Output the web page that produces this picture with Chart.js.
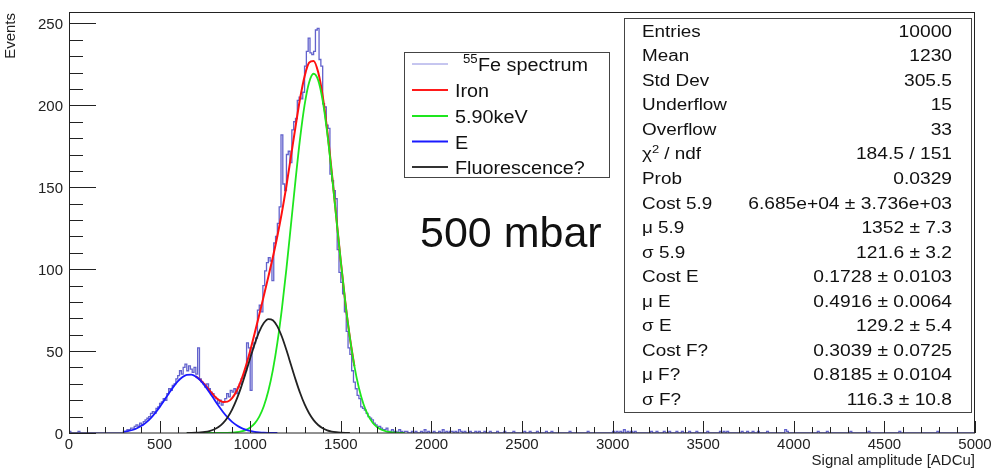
<!DOCTYPE html>
<html>
<head>
<meta charset="utf-8">
<script src="https://cdn.jsdelivr.net/npm/chart.js@4.4.1/dist/chart.umd.min.js"></script>
<style>
  html, body { margin: 0; padding: 0; background: #fff; }
  canvas { display: block; }
</style>
</head>
<body>
<canvas id="fe55" width="992" height="468"></canvas>
<script>
// 55Fe spectrum, 500 bins of 10 ADCu from 0 to 5000
var binWidth = 10;
var counts = [
  1,0,0,0,0,1,0,0,0,0, 0,0,0,0,0,0,0,0,0,0,
  0,0,0,0,0,0,0,0,0,0, 1,1,2,2,3,3,4,5,4,6,
  5,7,8,9,10,12,13,12,15,16, 18,19,21,20,24,27,26,29,30,33,
  35,38,36,40,42,38,41,39,37,40, 36,52,33,31,30,28,30,27,25,24,
  22,21,18,20,17,19,21,24,22,26, 25,27,24,28,30,33,35,38,55,52,
  26,52,55,58,75,78,74,90,99,104, 107,105,93,116,120,128,138,182,152,148,
  170,172,165,185,190,192,203,205,204,208, 224,233,241,232,231,233,246,247,228,224,
  201,199,188,186,158,154,148,143,112,98, 92,85,74,62,52,48,38,31,27,23,
  21,16,15,14,12,10,9,8,6,5, 4,4,3,2,2,3,1,1,2,1,
  1,0,2,1,0,1,1,0,0,1, 0,1,0,0,1,0,2,0,1,0,
  0,1,0,0,1,0,2,0,1,0, 1,1,0,1,0,2,1,0,1,0,
  0,1,0,0,1,0,1,0,0,1, 0,0,1,0,0,0,1,0,0,0,
  1,0,0,0,0,1,0,0,0,0, 0,1,0,0,1,0,0,0,1,0,
  0,0,0,1,0,0,1,0,0,0, 0,0,0,0,0,0,1,0,0,0,
  0,0,0,0,0,0,1,0,0,0, 0,0,0,0,0,0,0,0,0,0,
  1,0,1,0,1,0,2,0,1,0, 1,0,1,0,0,0,0,0,0,0,
  0,1,0,0,1,0,0,0,1,0, 0,1,0,0,0,1,0,0,1,0,
  0,0,1,0,0,0,1,0,0,0, 0,0,1,0,0,0,0,0,0,1,
  0,1,0,1,0,0,0,0,0,0, 0,1,0,0,1,0,0,1,0,0,
  1,0,0,0,0,1,0,0,0,0, 0,0,0,0,0,2,1,0,0,0,
  0,0,0,0,0,0,0,0,0,0, 0,0,0,1,0,0,0,0,1,0,
  0,0,0,0,0,0,0,0,0,0, 0,1,0,0,0,0,0,0,0,0,
  0,1,0,0,0,0,0,0,0,0, 0,0,0,0,0,0,0,0,1,0,
  0,0,0,0,0,0,0,0,0,0, 0,0,0,0,0,0,0,0,0,1,
  0,0,0,0,0,0,0,0,0,0, 0,0,0,0,0,0,0,0,0,0
];

// fit curves, every 25 ADCu
var curveStep = 25;
var ironStart = 700;
var ironY = [34.56,32.38,29.38,26.03,22.83,20.29,18.91,19.16,21.35,25.66,32.09,40.42,
  50.21,61.0,72.27,83.71,95.31,107.31,120.3,134.72,151.0,168.85,186.92,204.04,
  217.67,226.04,227.16,220.3,205.82,184.86,159.4,131.87,104.83,79.78,58.34,40.81];
var kevStart = 650;
var kevY = [0,0,0,0,0,0,0.01,0.02,0.04,0.1,0.22,0.46,0.93,1.8,3.32,5.9,10.03,16.37,
  25.62,38.38,55.18,75.98,100.4,127.2,154.2,179.5,200.1,214.0,219.3,215.4,202.9,183.2,
  158.5,131.4,104.6,79.67,58.29,40.81,27.43,17.65,10.88,6.45,3.64,1.99,1.03,0.52,0.25,0.11,0.05];
var eStart = 300;
var eY = [0.66,1.12,1.83,2.87,4.36,6.35,8.94,12.11,15.8,19.85,24.03,28.01,31.46,34.03,
  35.46,35.6,34.41,32.06,28.75,24.85,20.68,16.58,12.81,9.53,6.83,4.71,3.13,2.01,1.24,
  0.74,0.42,0.23,0.12,0.06,0.03];
var fluoStart = 650;
var fluoY = [0.03,0.07,0.15,0.32,0.63,1.18,2.14,3.69,6.06,9.53,14.3,20.49,28.03,36.61,
  45.65,54.36,61.82,67.11,69.57,68.87,65.09,58.74,50.61,41.65,32.72,24.54,17.57,12.04,
  7.86,4.9,2.92,1.66,0.9,0.47,0.23,0.11,0.05];

var xTicks = [0,500,1000,1500,2000,2500,3000,3500,4000,4500,5000];
var yTicks = [0,50,100,150,200,250];

var statNames = ['Entries','Mean','Std Dev','Underflow','Overflow','\u03c72 / ndf','Prob',
  'Cost 5.9','\u03bc 5.9','\u03c3 5.9','Cost E','\u03bc E','\u03c3 E','Cost F?','\u03bc F?','\u03c3 F?'];
var statValues = ['10000','1230','305.5','15','33','184.5 / 151','0.0329',
  '6.685e+04 \u00b1 3.736e+03','1352 \u00b1 7.3','121.6 \u00b1 3.2','0.1728 \u00b1 0.0103',
  '0.4916 \u00b1 0.0064','129.2 \u00b1 5.4','0.3039 \u00b1 0.0725','0.8185 \u00b1 0.0104',
  '116.3 \u00b1 10.8'];

var legendNames = ['Fe spectrum','Iron','5.90keV','E','Fluorescence?'];
var legendColors = ['#8c8ce0','#ff1a1a','#1ee61e','#1a1aff','#333333'];

function toPoints(start, ys) {
  return ys.map(function(v, i) { return { x: start + i * curveStep, y: v }; });
}
var histPoints = counts.map(function(c, i) { return { x: (i + 0.5) * binWidth, y: c }; });

var FONT = '"Liberation Sans", Arial, Helvetica, sans-serif';

function txt(ctx, s, x, y, align, size, sx) {
  ctx.save();
  ctx.font = size + 'px ' + FONT;
  ctx.translate(x, y);
  ctx.scale(sx || 1, 1);
  ctx.textAlign = align;
  ctx.textBaseline = 'alphabetic';
  ctx.fillText(s, 0, 0);
  ctx.restore();
}

var rootLook = {
  id: 'rootLook',
  afterDatasetsDraw: function(chart) {
    var ctx = chart.ctx, a = chart.chartArea;
    var xs = chart.scales.x, ys = chart.scales.y;
    ctx.save();
    ctx.strokeStyle = '#222';
    ctx.fillStyle = '#222';
    ctx.lineWidth = 1;
    ctx.strokeRect(a.left + 0.5, a.top + 0.5, a.right - a.left - 1, a.bottom - a.top - 0.5);

    // x ticks, minor every 100
    for (var v = 0; v <= 5000; v += 100) {
      var px = Math.round(xs.getPixelForValue(v)) + 0.5;
      var len = v % 500 === 0 ? 12 : 6;
      ctx.beginPath(); ctx.moveTo(px, a.bottom); ctx.lineTo(px, a.bottom - len); ctx.stroke();
    }
    // y ticks, minor every 10
    for (var w = 0; w <= 250; w += 10) {
      var py = Math.round(ys.getPixelForValue(w)) + 0.5;
      var l2 = w % 50 === 0 ? 27 : 14;
      ctx.beginPath(); ctx.moveTo(a.left, py); ctx.lineTo(a.left + l2, py); ctx.stroke();
    }
    xTicks.forEach(function(t) {
      txt(ctx, String(t), xs.getPixelForValue(t), 449, 'center', 15);
    });
    yTicks.forEach(function(t) {
      txt(ctx, String(t), 63, ys.getPixelForValue(t) + 5.5, 'right', 15);
    });
    txt(ctx, 'Signal amplitude [ADCu]', a.right, 465, 'right', 15);
    ctx.save();
    ctx.translate(15, 13);
    ctx.rotate(-Math.PI / 2);
    ctx.font = '15px ' + FONT;
    ctx.textAlign = 'right';
    ctx.fillText('Events', 0, 0);
    ctx.restore();

    // legend
    var lx = 404, ly = 52, lw = 205, lh = 125;
    ctx.fillStyle = '#fff';
    ctx.fillRect(lx, ly, lw, lh);
    ctx.strokeStyle = '#444';
    ctx.strokeRect(lx + 0.5, ly + 0.5, lw, lh);
    var rowY = [64, 90, 116, 141.5, 167];
    legendNames.forEach(function(name, i) {
      ctx.strokeStyle = legendColors[i];
      ctx.lineWidth = i === 0 ? 1 : 1.8;
      ctx.beginPath(); ctx.moveTo(412, rowY[i]); ctx.lineTo(448, rowY[i]); ctx.stroke();
      ctx.fillStyle = '#111';
      if (i === 0) {
        txt(ctx, '55', 463, rowY[i] - 1, 'left', 12, 1.1);
        txt(ctx, name, 478, rowY[i] + 7, 'left', 18, 1.1);
      } else {
        txt(ctx, name, 455, rowY[i] + 7, 'left', 18, 1.1);
      }
    });

    // stats box
    var sx0 = 624, sy0 = 18, sw = 347, sh = 394;
    ctx.fillStyle = '#fff';
    ctx.fillRect(sx0, sy0, sw, sh);
    ctx.strokeStyle = '#444';
    ctx.lineWidth = 1;
    ctx.strokeRect(sx0 + 0.5, sy0 + 0.5, sw, sh);
    ctx.fillStyle = '#111';
    statNames.forEach(function(name, i) {
      var by = 36.7 + i * 24.55;
      if (name.indexOf('2 / ndf') > 0) {
        txt(ctx, '\u03c7', 642, by, 'left', 16, 1.18);
        txt(ctx, '2', 652, by - 6, 'left', 11, 1.18);
        txt(ctx, ' / ndf', 659, by, 'left', 16, 1.18);
      } else {
        txt(ctx, name, 642, by, 'left', 16, 1.18);
      }
      txt(ctx, statValues[i], 952, by, 'right', 16, 1.2);
    });

    txt(ctx, '500 mbar', 420, 247, 'left', 43);
    ctx.restore();
  }
};

var lineDefaults = { pointRadius: 0, fill: false, cubicInterpolationMode: 'monotone', borderWidth: 1.8 };

new Chart(document.getElementById('fe55').getContext('2d'), {
  type: 'line',
  data: {
    datasets: [
      Object.assign({}, lineDefaults, { label: '55Fe spectrum', data: histPoints, stepped: 'middle',
        borderColor: 'rgba(70,70,195,0.85)', borderWidth: 1.3, order: 5 }),
      Object.assign({}, lineDefaults, { label: 'Iron', data: toPoints(ironStart, ironY),
        borderColor: '#ff1010', borderWidth: 2, order: 4 }),
      Object.assign({}, lineDefaults, { label: '5.90keV', data: toPoints(kevStart, kevY),
        borderColor: '#1ee61e', order: 3 }),
      Object.assign({}, lineDefaults, { label: 'E', data: toPoints(eStart, eY),
        borderColor: '#1a1aff', order: 2 }),
      Object.assign({}, lineDefaults, { label: 'Fluorescence?', data: toPoints(fluoStart, fluoY),
        borderColor: '#222', order: 1 })
    ]
  },
  options: {
    responsive: false,
    animation: false,
    devicePixelRatio: 1,
    layout: { padding: { left: 69, right: 17, top: 12, bottom: 35 } },
    plugins: { legend: { display: false }, tooltip: { enabled: false } },
    scales: {
      x: { type: 'linear', min: 0, max: 5000, display: false },
      y: { type: 'linear', min: 0, max: 257, display: false }
    }
  },
  plugins: [rootLook]
});
</script>
</body>
</html>
